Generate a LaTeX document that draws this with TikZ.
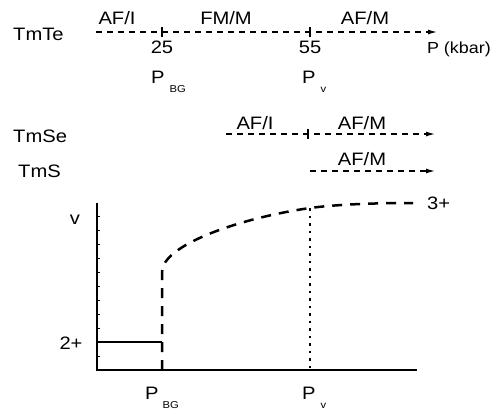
\documentclass[tikz,border=0pt]{standalone}
\usepackage{fontspec}
\setmainfont{Liberation Sans}[FakeStretch=1.12]
\usetikzlibrary{arrows.meta, positioning}

\tikzset{
  lbl/.style={inner sep=0pt, font=\fontsize{18}{18}\selectfont},
  phase/.style={line width=1.2pt, dash pattern=on 6pt off 5pt, -{Latex[length=9pt,width=5pt]}},
  tickmark/.style={line width=1.2pt},
  axis/.style={line width=2pt},
  valcurve/.style={line width=2.5pt, dash pattern=on 10pt off 8pt},
  guide/.style={line width=2pt, dash pattern=on 2.5pt off 5pt}
}
\newcommand{\Psub}[2]{P\hspace{#2}\raisebox{-9pt}{\fontsize{10}{10}\selectfont #1}}

\begin{document}
\begin{tikzpicture}[x=1pt, y=-1pt]
  \useasboundingbox (0,0) rectangle (492,410);

  % TmTe
  \node[lbl, anchor=base west] (tmte) at (13,40) {TmTe};
  \coordinate (te0) at (96,32);
  \coordinate (te1) at (437,32);
  \draw[phase] (te0) -- (te1);
  \coordinate (tbg) at (162,32);
  \coordinate (tv) at (310,32);
  \draw[tickmark] ([yshift=-5pt]tbg) -- ([yshift=5pt]tbg);
  \draw[tickmark] ([yshift=-5pt]tv) -- ([yshift=5pt]tv);
  \node[lbl, anchor=base] (afi) at (117,24) {AF/I};
  \node[lbl, anchor=base] (fmm) at (226,24) {FM/M};
  \node[lbl, anchor=base] (afm) at (365,24) {AF/M};
  \node[lbl, anchor=base] (n25) at (162,53) {25};
  \node[lbl, anchor=base] (n55) at (310,53) {55};
  \node[lbl, anchor=base east, font=\fontsize{16}{16}\selectfont] (pk) at (491,53) {P (kbar)};
  \node[lbl, anchor=base west] (pbg) at (151,83) {\Psub{BG}{5pt}};
  \node[lbl, anchor=base west] (pv) at (302,83) {\Psub{v}{5pt}};

  % TmSe
  \node[lbl, anchor=base west] (tmse) at (13,142) {TmSe};
  \coordinate (se0) at (226,134);
  \coordinate (se1) at (435,134);
  \coordinate (sev) at (308,134);
  \draw[phase] (se0) -- (se1);
  \draw[tickmark] ([yshift=-5pt]sev) -- ([yshift=5pt]sev);
  \node[lbl, anchor=base] (seafi) at (255,129) {AF/I};
  \node[lbl, anchor=base] (seafm) at (362,129) {AF/M};

  % TmS
  \node[lbl, anchor=base west] (tms) at (18,177) {TmS};
  \coordinate (s0) at (310,171);
  \coordinate (s1) at (435,171);
  \draw[phase] (s0) -- (s1);
  \node[lbl, anchor=base] (safm) at (362,165) {AF/M};

  % valence plot
  \coordinate (o) at (97,370);
  \coordinate (ytop) at (97,203);
  \coordinate (xend) at (417,370);
  \draw[axis] (ytop) -- (o) -- (xend);
  \foreach \t in {216,230,...,356}
    \draw[line width=0.8pt] (97,\t) -- (99.5,\t);
  \coordinate (two) at (97,342);
  \coordinate (jump) at (162,342);
  \draw[axis] (two) -- (jump);
  \coordinate (bgx) at (162,370);
  \coordinate (bgtop) at (162,272);
  \coordinate (vpt) at (310,208);
  \coordinate (vx) at (310,370);
  \coordinate (cend) at (413,203);
  \draw[valcurve] (bgx) -- (bgtop)
    .. controls (162,245) and (240,218) .. (vpt)
    .. controls (340,204) and (380,203) .. (cend);
  \draw[guide] (vpt) -- (vx);
  \node[lbl, anchor=base] (vlab) at (75,224) {v};
  \node[lbl, anchor=base] (twolab) at (71,349) {2+};
  \node[lbl, anchor=base west] (threelab) at (427,209) {3+};
  \node[lbl, anchor=base west] (pbg2) at (145,399) {\Psub{BG}{4pt}};
  \node[lbl, anchor=base west] (pv2) at (302,399) {\Psub{v}{5pt}};
\end{tikzpicture}
\end{document}
